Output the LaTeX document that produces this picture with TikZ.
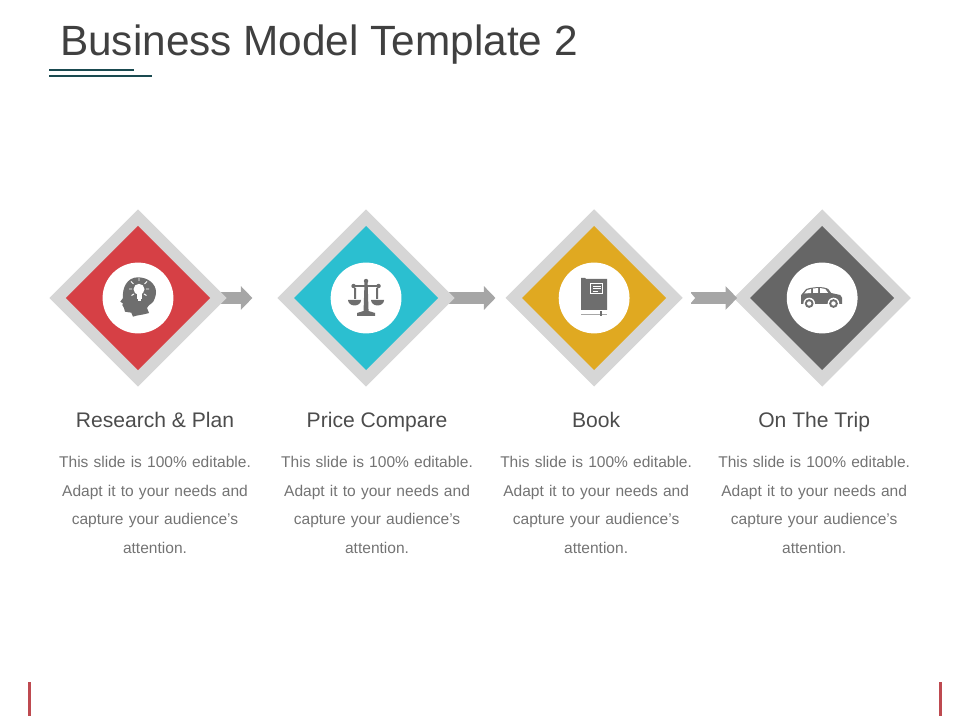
\documentclass[tikz,border=0pt]{standalone}
\usepackage{fontspec}
\setmainfont{Liberation Sans}
\usetikzlibrary{arrows.meta,shapes.geometric,backgrounds}

\definecolor{ruleteal}{HTML}{1A4A50}
\definecolor{rulered}{HTML}{BE4A50}
\definecolor{diamgray}{HTML}{D6D6D6}
\definecolor{flowgray}{HTML}{A6A6A6}
\definecolor{icongray}{HTML}{6E6E6E}
\definecolor{redfill}{HTML}{D64045}
\definecolor{cyanfill}{HTML}{2BBFD0}
\definecolor{goldfill}{HTML}{E0A921}
\definecolor{darkfill}{HTML}{666666}

\tikzset{
  outerd/.style={diamond,aspect=1,fill=diamgray,inner sep=0pt,outer sep=0pt,minimum width=4.43cm,minimum height=4.43cm},
  innerd/.style={diamond,aspect=1,inner sep=0pt,outer sep=0pt,minimum width=3.6cm,minimum height=3.6cm},
  hole/.style={circle,fill=white,inner sep=0pt,minimum size=1.77cm},
  flow/.style={draw=flowgray,line width=.3cm,-{Triangle[length=.29cm,width=.58cm]}},
  heading/.style={font=\fontsize{15}{18}\selectfont,text=black!70,text height=11pt,text depth=3pt},
  bodytext/.style={font=\fontsize{11.05}{20.3}\selectfont,text=black!55,align=center,text width=5.2cm},
}

\begin{document}
\begin{tikzpicture}[x=.025cm,y=-.025cm,node distance=5.7cm]
\useasboundingbox (0,0) rectangle (960,720);

\node[font=\fontsize{30.1}{36}\selectfont,text=black!75] (title) at (319,45) {Business Model Template 2};
\draw[ruleteal,line width=1.5pt] (49,70) -- (134,70);
\draw[ruleteal,line width=1.5pt] (49,76) -- (152,76);

\node[outerd] (d1) at (138,298) {};
\node[outerd,right of = d1] (d2) {};
\node[outerd,right of = d2] (d3) {};
\node[outerd,right of = d3] (d4) {};
\node[innerd,fill=redfill] (r1) at (d1) {};
\node[innerd,fill=cyanfill] (r2) at (d2) {};
\node[innerd,fill=goldfill] (r3) at (d3) {};
\node[innerd,fill=darkfill] (r4) at (d4) {};
\node[hole] (c1) at (d1) {};
\node[hole] (c2) at (d2) {};
\node[hole] (c3) at (d3) {};
\node[hole] (c4) at (d4) {};

\begin{scope}[on background layer]
\draw[flow,shorten <=-.2cm,shorten >=.625cm] (d1) -- (d2);
\draw[flow,shorten <=-.2cm,shorten >=.25cm] (d2) -- (d3);
\end{scope}
\draw[flow,shorten <=.2cm,shorten >=-.09cm] (d3) -- (d4);
\fill[white] (689,291) -- (695,298) -- (689,305) -- cycle;

% head
\begin{scope}[shift={(c1)}]
\fill[icongray] (0,-20.7) .. controls (10,-20.7) and (18,-14) .. (18,-6) .. controls (18,-1) and (16,2) .. (15,4)
  .. controls (12,7) and (9,8) .. (9,10) -- (11,15) .. controls (5,17) and (-1,17) .. (-5,18.7)
  -- (-6.7,14.7) -- (-13,13.7) -- (-14,10) -- (-15.7,7) -- (-15,5.5) -- (-17.7,3.7) -- (-15,0)
  .. controls (-16,-10) and (-11,-20.7) .. (0,-20.7) -- cycle;
\fill[white] (1,-8.7) circle (5.5);
\fill[white] (-1.5,-5) rectangle (3.5,1);
\fill[white] (-.5,1) rectangle (2.5,3.5);
\draw[white,line width=.7pt] (-9,-9) -- (-6,-9) (11,-9) -- (8,-9) (-7,-16.5) -- (-4.5,-14)
  (9,-16.5) -- (6.5,-14) (1,-20) -- (1,-17) (-6.5,-2.5) -- (-4,-4) (8.5,-2.5) -- (6,-4);
\end{scope}

% scales
\begin{scope}[shift={(c2)}]
\fill[icongray] (-1.5,-17) -- (1.5,-17) -- (2.5,13) -- (9,15) -- (9,18) -- (-9,18) -- (-9,15) -- (-2.5,13) -- cycle;
\fill[icongray] (-13,-13) rectangle (13,-11);
\fill[icongray] (0,-17) circle (2.2) (-12.5,-12) circle (2.2) (12.5,-12) circle (2.2);
\fill[icongray] (-12,-10) rectangle (-10,1) (10,-10) rectangle (12,1);
\fill[icongray] (-18,2) arc[start angle=180,end angle=360,x radius=6.5,y radius=-5.5] -- cycle;
\fill[icongray] (5,2) arc[start angle=180,end angle=360,x radius=6.5,y radius=-5.5] -- cycle;
\end{scope}

% book
\begin{scope}[shift={(c3)}]
\fill[icongray] (-13,-20) -- (-9,-20) -- (-8,-19) -- (13,-19) -- (13,12) -- (-13,12) -- cycle;
\fill[white] (-4,-15) rectangle (9,-4);
\fill[icongray] (-3,-14) rectangle (8,-5);
\draw[white,line width=.7pt] (-1,-12) -- (7,-12) (-1,-9.5) -- (7,-9.5) (-1,-7) -- (4,-7);
\draw[flowgray,line width=.4pt] (-13,16) -- (13,16);
\fill[icongray] (5.5,13.5) rectangle (7.5,18);
\end{scope}

% car
\begin{scope}[shift={(c4)}]
\fill[icongray] (-21,6) -- (-21,-3) -- (-16,-9) .. controls (-8,-11.5) and (2,-11.5) .. (6,-9) -- (9,-5)
  -- (18,-3) -- (20,0) -- (20,6) -- cycle;
\fill[white] (-15,-8) -- (-11,-9) -- (-11,-5) -- (-18,-4.5) -- cycle;
\fill[white] (-9,-9.5) -- (-4,-10) -- (-4,-5) -- (-9,-5) -- cycle;
\fill[white] (-2,-10) -- (3,-9) -- (6,-5) -- (-2,-5) -- cycle;
\fill[white] (-13,5.5) circle (5.8) (11.3,5.5) circle (5.8);
\fill[icongray] (-13,5.5) circle (4.4) (11.3,5.5) circle (4.4);
\fill[white] (-13,5.5) circle (2.2) (11.3,5.5) circle (2.2);
\end{scope}

\node[heading,below of = d1,node distance=3.1cm,xshift=.425cm] (h1) {Research \& Plan};
\node[heading,below of = d2,node distance=3.1cm,xshift=.275cm] (h2) {Price Compare};
\node[heading,below of = d3,node distance=3.1cm,xshift=.05cm] (h3) {Book};
\node[heading,below of = d4,node distance=3.1cm,xshift=-.2cm] (h4) {On The Trip};

\node[bodytext,below of = d1,node distance=5.17cm,xshift=.425cm] (t1) {This slide is 100\% editable.\\ Adapt it to your needs and\\ capture your audience's\\ attention.};
\node[bodytext,below of = d2,node distance=5.17cm,xshift=.275cm] (t2) {This slide is 100\% editable.\\ Adapt it to your needs and\\ capture your audience's\\ attention.};
\node[bodytext,below of = d3,node distance=5.17cm,xshift=.05cm] (t3) {This slide is 100\% editable.\\ Adapt it to your needs and\\ capture your audience's\\ attention.};
\node[bodytext,below of = d4,node distance=5.17cm,xshift=-.2cm] (t4) {This slide is 100\% editable.\\ Adapt it to your needs and\\ capture your audience's\\ attention.};

\draw[rulered,line width=2.1pt] (29.5,682) -- (29.5,716);
\draw[rulered,line width=2.1pt] (940.5,682) -- (940.5,716);
\end{tikzpicture}
\end{document}
